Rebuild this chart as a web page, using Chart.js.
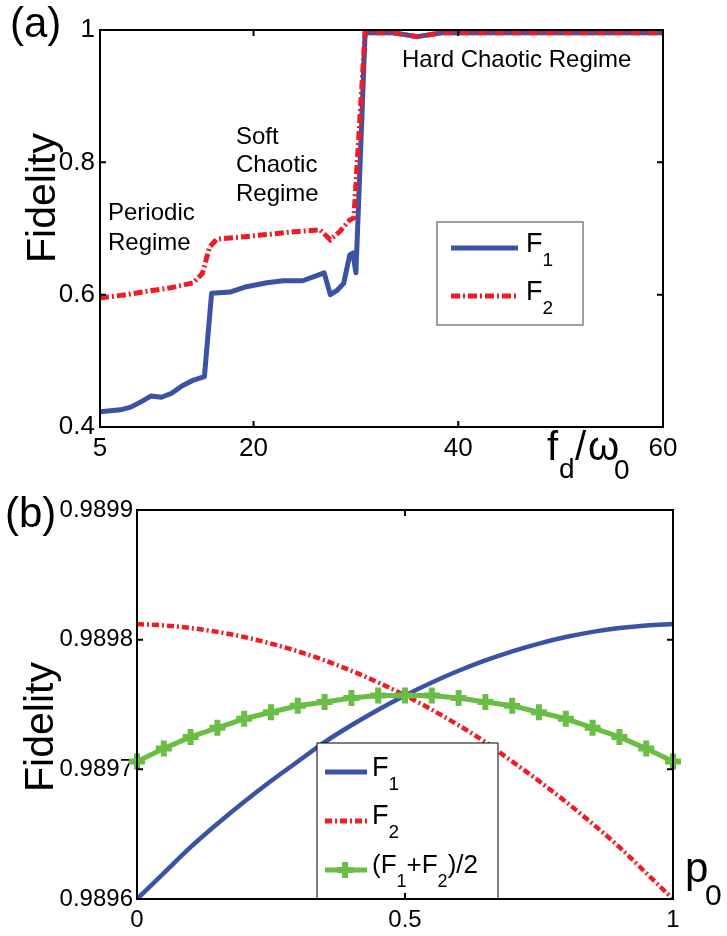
<!DOCTYPE html>
<html><head><meta charset="utf-8">
<script src="https://cdn.jsdelivr.net/npm/chart.js@4/dist/chart.umd.min.js"></script>
<style>
html,body{margin:0;padding:0;background:#fff;}
#wrap{position:relative;width:727px;height:936px;overflow:hidden;background:#fff;}
canvas{position:absolute;left:0;top:0;}
</style></head><body>
<div id="wrap"><canvas id="ca" width="727" height="936"></canvas><canvas id="cb" width="727" height="936"></canvas></div>
<script>
// ---------- Panel (a) data ----------
const aF1X = [5, 7, 8, 9, 10, 11, 12, 13, 14, 15.2, 15.9, 17.7, 19.3, 21.3, 22.9, 24.8, 26.9, 27.5, 28.2, 28.8, 29.4, 29.7, 30.0, 30.9, 33.5, 36, 38.5, 60];
const aF1Y = [0.423, 0.426, 0.430, 0.438, 0.447, 0.445, 0.451, 0.462, 0.470, 0.476, 0.602, 0.604, 0.612, 0.618, 0.621, 0.621, 0.633, 0.600, 0.607, 0.617, 0.660, 0.663, 0.633, 0.996, 0.996, 0.990, 0.996, 0.996];
const aF2X = [5, 7.6, 9.9, 11.8, 14.1, 15, 15.7, 16.4, 18.7, 21.3, 23.9, 26.5, 27.5, 28.4, 29.4, 29.8, 30.9, 33.5, 36, 38.5, 60];
const aF2Y = [0.595, 0.600, 0.606, 0.610, 0.618, 0.632, 0.672, 0.684, 0.687, 0.691, 0.695, 0.698, 0.683, 0.695, 0.713, 0.716, 0.996, 0.996, 0.990, 0.996, 0.996];
const aTicksX = [5, 20, 40, 60];
const aTickLabelsX = ['5', '20', '40', '60'];
const aTicksY = [0.4, 0.6, 0.8, 1];
const aTickLabelsY = ['0.4', '0.6', '0.8', '1'];

// ---------- Panel (b) data ----------
const bP = [0, 0.05, 0.1, 0.15, 0.2, 0.25, 0.3, 0.35, 0.4, 0.45, 0.5, 0.55, 0.6, 0.65, 0.7, 0.75, 0.8, 0.85, 0.9, 0.95, 1];
const bF1 = [0.989600, 0.989620, 0.989640, 0.989658, 0.989675, 0.989691, 0.989706, 0.989721, 0.989734, 0.989746, 0.989757, 0.989767, 0.989776, 0.989784, 0.989791, 0.989797, 0.989802, 0.989806, 0.989809, 0.989811, 0.989812];
const bF2 = [0.989812, 0.989811, 0.989809, 0.989806, 0.989802, 0.989797, 0.989791, 0.989784, 0.989776, 0.989767, 0.989757, 0.989746, 0.989734, 0.989721, 0.989706, 0.989691, 0.989675, 0.989658, 0.989640, 0.989620, 0.989600];
const bAvg = [0.989706, 0.989716, 0.989725, 0.989732, 0.989739, 0.989744, 0.989749, 0.989752, 0.989755, 0.989757, 0.989757, 0.989757, 0.989755, 0.989752, 0.989749, 0.989744, 0.989739, 0.989732, 0.989725, 0.989716, 0.989706];
const bTicksX = [0, 0.5, 1];
const bTickLabelsX = ['0', '0.5', '1'];
const bTicksY = [0.9896, 0.9897, 0.9898, 0.9899];
const bTickLabelsY = ['0.9896', '0.9897', '0.9898', '0.9899'];

// ---------- styles ----------
const FONT = "'Liberation Sans', Arial, Helvetica, sans-serif";
const BLUE = '#3a53a5';
const RED = '#ee1c25';
const GREEN = '#6abd45';
const RED_DASH = [9, 3, 2, 3];

function txt(ctx, s, x, y, size, align) {
  ctx.font = size + 'px ' + FONT;
  ctx.textAlign = align || 'left';
  ctx.textBaseline = 'alphabetic';
  ctx.fillStyle = '#000';
  ctx.fillText(s, x, y);
}
// draw sequence of [text, size, dy] parts; returns end x
function rich(ctx, parts, x, y) {
  let cx = x;
  for (const [s, size, dy] of parts) {
    ctx.font = size + 'px ' + FONT;
    ctx.textAlign = 'left';
    ctx.textBaseline = 'alphabetic';
    ctx.fillStyle = '#000';
    ctx.fillText(s, cx, y + dy);
    cx += ctx.measureText(s).width;
  }
  return cx;
}
function vtxt(ctx, s, x, y, size) {
  ctx.save();
  ctx.translate(x, y);
  ctx.rotate(-Math.PI / 2);
  txt(ctx, s, 0, 0, size, 'center');
  ctx.restore();
}
function frame(chart, xt, yt) {
  const {ctx, chartArea: a, scales} = chart;
  ctx.save();
  ctx.strokeStyle = '#000';
  ctx.lineWidth = 2;
  const L = 6;
  ctx.beginPath();
  for (const v of xt) {
    const px = scales.x.getPixelForValue(v);
    ctx.moveTo(px, a.bottom); ctx.lineTo(px, a.bottom - L);
    ctx.moveTo(px, a.top); ctx.lineTo(px, a.top + L);
  }
  for (const v of yt) {
    const py = scales.y.getPixelForValue(v);
    ctx.moveTo(a.left, py); ctx.lineTo(a.left + L, py);
    ctx.moveTo(a.right, py); ctx.lineTo(a.right - L, py);
  }
  ctx.stroke();
  ctx.strokeRect(a.left, a.top, a.right - a.left, a.bottom - a.top);
  ctx.restore();
}
function legendBox(ctx, x0, y0, x1, y1, color, lw) {
  ctx.save();
  ctx.fillStyle = '#fff';
  ctx.fillRect(x0, y0, x1 - x0, y1 - y0);
  ctx.strokeStyle = color;
  ctx.lineWidth = lw;
  ctx.strokeRect(x0, y0, x1 - x0, y1 - y0);
  ctx.restore();
}
function sample(ctx, x0, x1, y, color, lw, dash) {
  ctx.save();
  ctx.strokeStyle = color;
  ctx.lineWidth = lw;
  ctx.setLineDash(dash || []);
  ctx.beginPath(); ctx.moveTo(x0, y); ctx.lineTo(x1, y); ctx.stroke();
  ctx.restore();
}

function axisCommon(ticksArr, labelsArr, size, pad, fit) {
  return {
    type: 'linear',
    min: ticksArr[0], max: ticksArr[ticksArr.length - 1],
    afterBuildTicks: s => { s.ticks = ticksArr.map(v => ({value: v})); },
    afterFit: fit,
    grid: {display: false, drawTicks: false},
    border: {display: false},
    ticks: {
      font: {family: FONT, size: size, lineHeight: 1},
      color: '#000', padding: pad, autoSkip: false, maxRotation: 0, minRotation: 0,
      callback: (v) => { const i = ticksArr.findIndex(t => Math.abs(t - v) < 1e-9); return i >= 0 ? labelsArr[i] : ''; }
    }
  };
}

// ---------- Chart (a) ----------
const decorA = {
  id: 'decorA',
  afterDraw(chart) {
    const ctx = chart.ctx;
    frame(chart, aTicksX, aTicksY);
    // legend
    legendBox(ctx, 437, 222, 583, 325, '#808080', 1.5);
    sample(ctx, 451, 518, 248, BLUE, 5);
    sample(ctx, 451, 518, 296, RED, 5, RED_DASH);
    rich(ctx, [['F', 27, 0], ['1', 19, 14]], 526, 252);
    rich(ctx, [['F', 27, 0], ['2', 19, 14]], 526, 300);
    // annotations
    txt(ctx, '(a)', 10, 37, 42);
    txt(ctx, 'Periodic', 108, 220, 24);
    txt(ctx, 'Regime', 108, 250, 24);
    txt(ctx, 'Soft', 236, 144, 24);
    txt(ctx, 'Chaotic', 236, 172, 24);
    txt(ctx, 'Regime', 236, 201, 24);
    txt(ctx, 'Hard Chaotic Regime', 402, 67, 24);
    vtxt(ctx, 'Fidelity', 55, 198, 41);
    // x title f_d / ω_0
    txt(ctx, 'f', 547, 460, 40);
    txt(ctx, 'd', 559, 478, 28);
    txt(ctx, '/', 575, 460, 40);
    txt(ctx, 'ω', 588, 460, 40);
    txt(ctx, '0', 614, 479, 28);
  }
};

new Chart(document.getElementById('ca'), {
  type: 'line',
  data: {
    datasets: [
      {label: 'F1', data: aF1X.map((x, i) => ({x: x, y: aF1Y[i]})), borderColor: BLUE, borderWidth: 5,
       pointRadius: 0, tension: 0, order: 1, borderJoinStyle: 'round', fill: false},
      {label: 'F2', data: aF2X.map((x, i) => ({x: x, y: aF2Y[i]})), borderColor: RED, borderWidth: 5,
       borderDash: RED_DASH, pointRadius: 0, tension: 0, order: 0, fill: false}
    ]
  },
  options: {
    animation: false, responsive: false, devicePixelRatio: 1,
    layout: {padding: {left: 0, top: 30, right: 64, bottom: 469}},
    plugins: {legend: {display: false}, tooltip: {enabled: false}},
    scales: {
      x: axisCommon(aTicksX, aTickLabelsX, 26, 9, s => { s.height = 40; }),
      y: axisCommon(aTicksY, aTickLabelsY, 26, 5, s => { s.width = 100; })
    }
  },
  plugins: [decorA]
});

// ---------- Chart (b) ----------
const decorB = {
  id: 'decorB',
  afterDraw(chart) {
    const ctx = chart.ctx;
    // legend (drawn over curves)
    legendBox(ctx, 317, 743, 498, 899, '#000', 1);
    sample(ctx, 325, 367, 772, BLUE, 5);
    sample(ctx, 325, 367, 821, RED, 5, [7, 3, 2, 3]);
    sample(ctx, 325, 367, 870, GREEN, 5);
    ctx.save();
    ctx.strokeStyle = GREEN; ctx.lineWidth = 6;
    ctx.beginPath(); ctx.moveTo(345, 862); ctx.lineTo(345, 878); ctx.moveTo(337, 870); ctx.lineTo(353, 870); ctx.stroke();
    ctx.restore();
    rich(ctx, [['F', 27, 0], ['1', 19, 14]], 372, 776);
    rich(ctx, [['F', 27, 0], ['2', 19, 14]], 372, 824);
    rich(ctx, [['(', 26, 0], ['F', 26, 0], ['1', 18, 14], ['+F', 26, 0], ['2', 18, 14], [')/2', 26, 0]], 372, 873);
    frame(chart, bTicksX, bTicksY);
    txt(ctx, '(b)', 5, 527, 42);
    vtxt(ctx, 'Fidelity', 53, 727, 41);
    txt(ctx, 'p', 685, 882, 42);
    txt(ctx, '0', 705, 905, 30);
  }
};

new Chart(document.getElementById('cb'), {
  type: 'line',
  data: {
    datasets: [
      {label: 'F1', data: bP.map((x, i) => ({x: x, y: bF1[i]})), borderColor: BLUE, borderWidth: 4.5,
       pointRadius: 0, cubicInterpolationMode: 'monotone', order: 2, fill: false},
      {label: 'F2', data: bP.map((x, i) => ({x: x, y: bF2[i]})), borderColor: RED, borderWidth: 4.5,
       borderDash: [7, 3, 2, 3], pointRadius: 0, cubicInterpolationMode: 'monotone', order: 1, fill: false},
      {label: '(F1+F2)/2', data: bP.map((x, i) => ({x: x, y: bAvg[i]})), borderColor: GREEN, borderWidth: 5,
       pointStyle: 'cross', pointRadius: 8, pointBorderWidth: 6, pointBorderColor: GREEN, pointBackgroundColor: GREEN,
       tension: 0, order: 0, fill: false, clip: false}
    ]
  },
  options: {
    animation: false, responsive: false, devicePixelRatio: 1,
    layout: {padding: {left: 0, top: 510, right: 54, bottom: 0}},
    plugins: {legend: {display: false}, tooltip: {enabled: false}},
    scales: {
      x: axisCommon(bTicksX, bTickLabelsX, 24, 9, s => { s.height = 37; }),
      y: axisCommon(bTicksY, bTickLabelsY, 24, 4, s => { s.width = 137; })
    }
  },
  plugins: [decorB]
});
</script>
</body></html>
